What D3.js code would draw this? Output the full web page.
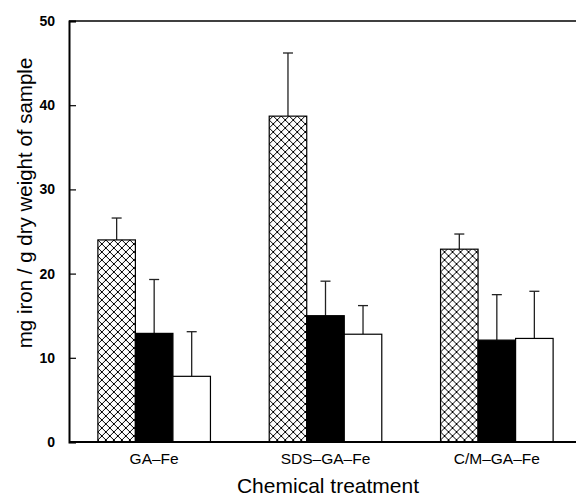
<!DOCTYPE html>
<html>
<head>
<meta charset="utf-8">
<script src="https://cdn.jsdelivr.net/npm/d3@7"></script>
<style>
  body { margin: 0; background: #fff; }
  svg { display: block; }
</style>
</head>
<body>
<div id="chart"></div>
<script>
// Iron content per treatment, three sample series
const categories = ["GA\u2013Fe", "SDS\u2013GA\u2013Fe", "C/M\u2013GA\u2013Fe"];
const seriesKeys = ["hatched", "black", "white"];
const hatchedVals = [24.0, 38.7, 22.9];
const hatchedErr = [2.6, 7.5, 1.8];
const blackVals = [12.9, 15.0, 12.1];
const blackErr = [6.4, 4.1, 5.4];
const whiteVals = [7.8, 12.8, 12.3];
const whiteErr = [5.3, 3.4, 5.6];
const yTicks = [0, 10, 20, 30, 40, 50];

const width = 576, height = 499;
const margin = { top: 21, right: 0, bottom: 57, left: 69 };
const plotBottom = height - margin.bottom; // 442

const svg = d3.select("#chart").append("svg")
    .attr("width", width)
    .attr("height", height);

// crosshatch pattern
const defs = svg.append("defs");
const pat = defs.append("pattern")
    .attr("id", "xhatch")
    .attr("patternUnits", "userSpaceOnUse")
    .attr("width", 8)
    .attr("height", 8);
pat.append("rect").attr("width", 8).attr("height", 8).attr("fill", "#fff");
pat.append("path")
    .attr("d", "M0,0L8,8M8,0L0,8M-1,7L1,9M7,-1L9,1M-1,1L1,-1M7,9L9,7")
    .attr("stroke", "#000")
    .attr("stroke-width", 1);

const fills = { hatched: "url(#xhatch)", black: "#000", white: "#fff" };

const data = categories.map((c, i) => ({
    cat: c,
    vals: [
        { key: "hatched", v: hatchedVals[i], e: hatchedErr[i] },
        { key: "black", v: blackVals[i], e: blackErr[i] },
        { key: "white", v: whiteVals[i], e: whiteErr[i] }
    ]
}));

const y = d3.scaleLinear().domain([0, 50]).range([plotBottom, margin.top]);

const x0 = d3.scaleBand()
    .domain(categories)
    .range([68.5, 582.5])
    .paddingInner(0.343)
    .paddingOuter(0.1715);

const x1 = d3.scaleBand()
    .domain(seriesKeys)
    .range([0, x0.bandwidth()]);

// bars
const groups = svg.append("g")
    .selectAll("g")
    .data(data)
    .join("g")
    .attr("transform", d => `translate(${x0(d.cat)},0)`);

// error bars (upper only), drawn before bars
groups.selectAll("g.err")
    .data(d => d.vals)
    .join("g")
    .attr("class", "err")
    .each(function(d) {
        const cx = x1(d.key) + x1.bandwidth() / 2;
        const g = d3.select(this);
        g.append("line")
            .attr("x1", cx).attr("x2", cx)
            .attr("y1", y(d.v)).attr("y2", y(d.v + d.e))
            .attr("stroke", "#222").attr("stroke-width", 1.3);
        g.append("line")
            .attr("x1", cx - 5).attr("x2", cx + 5)
            .attr("y1", y(d.v + d.e)).attr("y2", y(d.v + d.e))
            .attr("stroke", "#222").attr("stroke-width", 1.3);
    });

groups.selectAll("rect")
    .data(d => d.vals)
    .join("rect")
    .attr("x", d => x1(d.key))
    .attr("y", d => y(d.v))
    .attr("width", x1.bandwidth())
    .attr("height", d => y(0) - y(d.v))
    .attr("fill", d => fills[d.key])
    .attr("stroke", "#000")
    .attr("stroke-width", 1.2);

// frame: left axis, top line, bottom line
svg.append("line")
    .attr("x1", margin.left).attr("x2", width)
    .attr("y1", margin.top).attr("y2", margin.top)
    .attr("stroke", "#000").attr("stroke-width", 1.5);
svg.append("line")
    .attr("x1", margin.left).attr("x2", width)
    .attr("y1", plotBottom).attr("y2", plotBottom)
    .attr("stroke", "#000").attr("stroke-width", 1.8);

const yAxis = svg.append("g")
    .attr("transform", `translate(${margin.left},0)`)
    .call(d3.axisLeft(y).tickValues(yTicks).tickSize(-7).tickPadding(14));
yAxis.select(".domain").attr("stroke-width", 2);
yAxis.selectAll(".tick line").attr("stroke-width", 1.2);
yAxis.selectAll(".tick text")
    .attr("font-family", "Liberation Sans, Arial, sans-serif")
    .attr("font-size", "14px")
    .attr("font-weight", "bold")
    .attr("fill", "#000");

// category labels
svg.append("g")
    .selectAll("text")
    .data(categories)
    .join("text")
    .attr("x", d => x0(d) + x0.bandwidth() / 2)
    .attr("y", 464)
    .attr("text-anchor", "middle")
    .attr("font-family", "Liberation Sans, Arial, sans-serif")
    .attr("font-size", "15.5px")
    .attr("fill", "#000")
    .text(d => d);

// axis titles
svg.append("text")
    .attr("x", 328)
    .attr("y", 493)
    .attr("text-anchor", "middle")
    .attr("font-family", "Liberation Sans, Arial, sans-serif")
    .attr("font-size", "21px")
    .attr("fill", "#000")
    .text("Chemical treatment");

svg.append("text")
    .attr("transform", "translate(32,203) rotate(-90)")
    .attr("text-anchor", "middle")
    .attr("font-family", "Liberation Sans, Arial, sans-serif")
    .attr("font-size", "20.5px")
    .attr("fill", "#000")
    .text("mg iron / g dry weight of sample");
</script>
</body>
</html>
